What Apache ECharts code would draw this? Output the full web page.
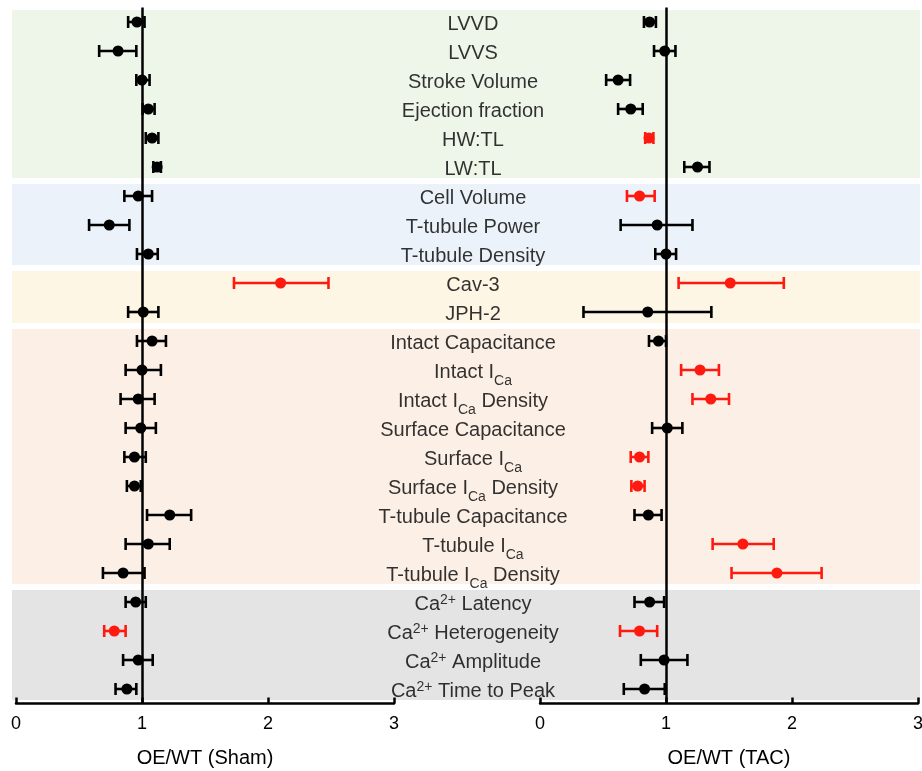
<!DOCTYPE html>
<html><head><meta charset="utf-8">
<script src="https://cdn.jsdelivr.net/npm/echarts@6/dist/echarts.min.js"></script>
<style>html,body{margin:0;padding:0;background:#fff}#c{width:922px;height:771px}</style>
</head><body><div id="c"></div>
<script>
// Row labels (rich-text markup: {s|..} subscript, {p|..} superscript)
const labels = ['LVVD','LVVS','Stroke Volume','Ejection fraction','HW:TL','LW:TL',
  'Cell Volume','T-tubule Power','T-tubule Density','Cav-3','JPH-2',
  'Intact Capacitance','Intact I{s|Ca}','Intact I{s|Ca} Density','Surface Capacitance',
  'Surface I{s|Ca}','Surface I{s|Ca} Density','T-tubule Capacitance','T-tubule I{s|Ca}',
  'T-tubule I{s|Ca} Density','Ca{p|2+} Latency','Ca{p|2+} Heterogeneity','Ca{p|2+} Amplitude',
  'Ca{p|2+} Time to Peak'];

const shamMean = [0.96,0.81,1.00,1.05,1.08,1.12,0.97,0.74,1.05,2.10,1.01,1.08,1.00,0.97,0.99,0.94,0.94,1.22,1.05,0.85,0.95,0.78,0.97,0.88];
const shamLow  = [0.89,0.66,0.955,1.005,1.03,1.09,0.86,0.58,0.96,1.73,0.89,0.96,0.87,0.83,0.87,0.86,0.88,1.04,0.87,0.69,0.87,0.70,0.85,0.79];
const shamHigh = [1.02,0.955,1.06,1.10,1.13,1.15,1.08,0.90,1.125,2.48,1.13,1.19,1.15,1.10,1.11,1.03,0.99,1.39,1.22,1.02,1.03,0.87,1.085,0.955];
const shamSig  = [9,21];

const tacMean = [0.87,0.99,0.62,0.72,0.865,1.25,0.79,0.93,1.00,1.51,0.855,0.94,1.27,1.355,1.01,0.79,0.775,0.86,1.61,1.88,0.87,0.79,0.985,0.83];
const tacLow  = [0.825,0.905,0.525,0.62,0.835,1.145,0.69,0.64,0.915,1.10,0.345,0.865,1.12,1.21,0.89,0.72,0.725,0.75,1.37,1.52,0.75,0.635,0.80,0.665];
const tacHigh = [0.92,1.075,0.715,0.815,0.90,1.345,0.91,1.21,1.08,1.935,1.36,1.0,1.42,1.50,1.13,0.86,0.83,0.965,1.855,2.235,0.985,0.93,1.17,0.99];
const tacSig  = [4,6,9,12,13,15,16,18,19,21];

const xTicks = [0,1,2,3];
const axisNames = ['OE/WT (Sham)','OE/WT (TAC)'];

// Background groups (first row, last row)
const groups = [[0,5],[6,8],[9,10],[11,19],[20,23]];
const groupColors = ['#eef5e9','#ecf2f9','#fef6e5','#fbefe6','#e4e4e4'];

const RED = '#ff1a0f', BLACK = '#000';
const FONT = '"Liberation Sans", Arial, Helvetica, sans-serif';
const TOP = 7.5, HEIGHT = 696;

function yAxisFor(idx){
  return {gridIndex: idx, type:'value', min:-0.5, max:23.5, inverse:true, show:false};
}
function panelX(idx, name){
  return {gridIndex: idx, type:'value', min:0, max:3, interval:1,
    axisLine:{show:true, onZero:false, lineStyle:{color:BLACK, width:2.5}},
    axisTick:{show:true, inside:true, length:6, lineStyle:{color:BLACK, width:2.5}},
    axisLabel:{show:true, color:BLACK, fontSize:18, fontFamily:FONT, margin:12,
      formatter: v => xTicks.includes(v) ? String(v) : ''},
    splitLine:{show:false},
    name: name, nameLocation:'middle', nameGap:45,
    nameTextStyle:{color:BLACK, fontSize:20, fontFamily:FONT}};
}
function errRender(params, api){
  const lo = api.coord([api.value(0), api.value(2)]);
  const hi = api.coord([api.value(1), api.value(2)]);
  const color = api.visual('color');
  const st = {stroke: color, lineWidth: 2.6};
  const cap = 6;
  return {type:'group', children:[
    {type:'line', shape:{x1:lo[0], y1:lo[1], x2:hi[0], y2:hi[1]}, style:st},
    {type:'line', shape:{x1:lo[0], y1:lo[1]-cap, x2:lo[0], y2:lo[1]+cap}, style:st},
    {type:'line', shape:{x1:hi[0], y1:hi[1]-cap, x2:hi[0], y2:hi[1]+cap}, style:st}
  ]};
}
function errData(lo, hi, sig){
  return lo.map((l,i)=>({value:[l, hi[i], i], itemStyle:{color: sig.includes(i)?RED:BLACK}}));
}
function dotData(m, sig){
  return m.map((v,i)=>({value:[v, i], itemStyle:{color: sig.includes(i)?RED:BLACK, opacity:1}}));
}
function bandRender(params, api){
  const a = api.coord([0, api.value(0) - 0.41]);
  const b = api.coord([1, api.value(1) + 0.38]);
  return {type:'rect', shape:{x:a[0], y:a[1], width:b[0]-a[0], height:b[1]-a[1]},
    style:{fill: api.visual('color')}};
}
function gridAt(left, width){
  return {left:left, width:width, top:TOP, height:HEIGHT, containLabel:false, outerBoundsMode:'none'};
}

const option = {
  animation:false,
  backgroundColor:'#fff',
  grid:[gridAt(12, 908), gridAt(16, 378), gridAt(540, 378), gridAt(373, 200)],
  xAxis:[
    {gridIndex:0, type:'value', min:0, max:1, show:false},
    panelX(1, axisNames[0]),
    panelX(2, axisNames[1]),
    {gridIndex:3, type:'value', min:0, max:1, show:false}
  ],
  yAxis:[yAxisFor(0), yAxisFor(1), yAxisFor(2), yAxisFor(3)],
  series:[
    {type:'custom', xAxisIndex:0, yAxisIndex:0, z:0, silent:true,
      renderItem: bandRender, encode:{y:[0,1]},
      data: groups.map((g,i)=>({value:g, itemStyle:{color:groupColors[i]}}))},
    {type:'custom', xAxisIndex:1, yAxisIndex:1, z:3, renderItem: errRender,
      encode:{x:[0,1], y:2}, data: errData(shamLow, shamHigh, shamSig)},
    {type:'scatter', xAxisIndex:1, yAxisIndex:1, z:4, symbolSize:11,
      itemStyle:{opacity:1},
      data: dotData(shamMean, shamSig),
      markLine:{silent:true, symbol:'none', label:{show:false},
        lineStyle:{color:BLACK, width:2.5, type:'solid'}, data:[{xAxis:1}]}},
    {type:'custom', xAxisIndex:2, yAxisIndex:2, z:3, renderItem: errRender,
      encode:{x:[0,1], y:2}, data: errData(tacLow, tacHigh, tacSig)},
    {type:'scatter', xAxisIndex:2, yAxisIndex:2, z:4, symbolSize:11,
      itemStyle:{opacity:1},
      data: dotData(tacMean, tacSig),
      markLine:{silent:true, symbol:'none', label:{show:false},
        lineStyle:{color:BLACK, width:2.5, type:'solid'}, data:[{xAxis:1}]}},
    {type:'scatter', xAxisIndex:3, yAxisIndex:3, z:5, symbolSize:1, silent:true,
      itemStyle:{color:'rgba(0,0,0,0)'},
      data: labels.map((t,i)=>[0.5, i]),
      label:{show:true, position:'inside', align:'center', verticalAlign:'middle',
        offset:[0,2],
        color:'#000', fontSize:20, fontFamily:FONT, lineHeight:22,
        formatter: p => labels[p.dataIndex],
        rich:{
          s:{fontSize:14, fontFamily:FONT, color:'#000', verticalAlign:'bottom', lineHeight:14, padding:[0,0,-5,0]},
          p:{fontSize:14, fontFamily:FONT, color:'#000', verticalAlign:'top', lineHeight:14}
        }}}
  ]
};
const chart = echarts.init(document.getElementById('c'), null, {renderer:'canvas'});
chart.setOption(option);
</script></body></html>
